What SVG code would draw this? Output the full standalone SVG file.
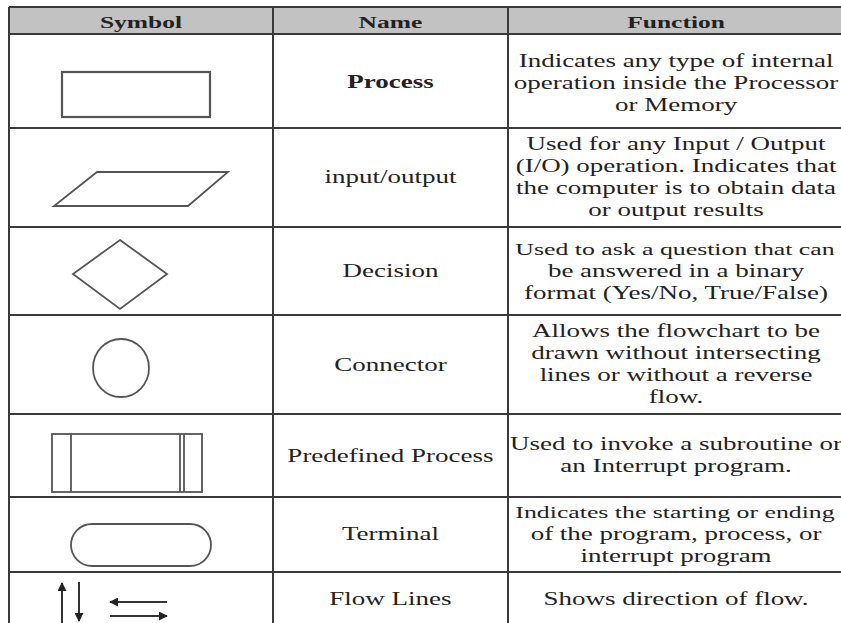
<svg xmlns="http://www.w3.org/2000/svg" width="841" height="623" viewBox="0 0 841 623">
<defs>
<style>
.grid{stroke:#3a3a3a;stroke-width:2;fill:none}
.shape{stroke:#555;stroke-width:1.8;fill:#fff}
.t{font-family:"Liberation Serif","Times New Roman",serif;font-size:18px;fill:#222;text-anchor:middle}
.h{font-weight:bold;font-size:17px}
.b{font-weight:bold}
.s{font-size:17.2px}
.arr{stroke:#333;stroke-width:2;fill:none}
</style>
<marker id="ah" viewBox="0 0 10 10" refX="9" refY="5" markerWidth="4.5" markerHeight="4.5" orient="auto-start-reverse">
<path d="M0,0 L10,5 L0,10 z" fill="#222"/>
</marker>
</defs>
<rect width="841" height="623" fill="#fff"/>
<g id="header">
<rect x="9" y="7" width="840" height="27" fill="#c2c2c2"/>
<g transform="scale(1.5 1)">
<text class="t h" x="94" y="28">Symbol</text>
<text class="t h" x="260.3" y="28">Name</text>
<text class="t h" x="450.7" y="28">Function</text>
</g>
</g>
<g id="grid" class="grid">
<line x1="9" y1="7" x2="841" y2="7"/>
<line x1="9" y1="34" x2="841" y2="34"/>
<line x1="9" y1="128" x2="841" y2="128"/>
<line x1="9" y1="227" x2="841" y2="227"/>
<line x1="9" y1="315" x2="841" y2="315"/>
<line x1="9" y1="414" x2="841" y2="414"/>
<line x1="9" y1="497" x2="841" y2="497"/>
<line x1="9" y1="572" x2="841" y2="572"/>
<line x1="9" y1="7" x2="9" y2="623"/>
<line x1="273" y1="7" x2="273" y2="623"/>
<line x1="508" y1="7" x2="508" y2="623"/>
</g>
<g id="row-process">
<rect class="shape" x="62" y="72" width="148" height="45" style="stroke-width:2.2"/>
<g transform="scale(1.5 1)">
<text class="t b" x="260.3" y="88">Process</text>
<text class="t" x="450.7" y="67">Indicates any type of internal</text>
<text class="t" x="450.7" y="89">operation inside the Processor</text>
<text class="t" x="450.7" y="111">or Memory</text>
</g>
</g>
<g id="row-io">
<polygon class="shape" points="97,172 228,172 188,206 54,206"/>
<g transform="scale(1.5 1)">
<text class="t" x="260.3" y="183">input/output</text>
<text class="t" x="450.7" y="150">Used for any Input / Output</text>
<text class="t" x="450.7" y="172">(I/O) operation. Indicates that</text>
<text class="t" x="450.7" y="194">the computer is to obtain data</text>
<text class="t" x="450.7" y="216">or output results</text>
</g>
</g>
<g id="row-decision">
<polygon class="shape" points="120,240 167,274 120,309 73,274"/>
<g transform="scale(1.5 1)">
<text class="t" x="260.3" y="277">Decision</text>
<text class="t s" x="450" y="255">Used to ask a question that can</text>
<text class="t" x="450.7" y="277">be answered in a binary</text>
<text class="t" x="450.7" y="299">format (Yes/No, True/False)</text>
</g>
</g>
<g id="row-connector">
<ellipse class="shape" cx="121" cy="368" rx="28" ry="29"/>
<g transform="scale(1.5 1)">
<text class="t" x="260.3" y="371">Connector</text>
<text class="t" x="450.7" y="337">Allows the flowchart to be</text>
<text class="t" x="450.7" y="359">drawn without intersecting</text>
<text class="t" x="450.7" y="381">lines or without a reverse</text>
<text class="t" x="450.7" y="403">flow.</text>
</g>
</g>
<g id="row-predefined">
<rect class="shape" x="52" y="434" width="150" height="58"/>
<line class="shape" x1="71" y1="434" x2="71" y2="492"/>
<line class="shape" x1="180" y1="434" x2="180" y2="492"/>
<line class="shape" x1="184" y1="434" x2="184" y2="492"/>
<g transform="scale(1.5 1)">
<text class="t" x="260.3" y="462">Predefined Process</text>
<text class="t" x="450.7" y="450">Used to invoke a subroutine or</text>
<text class="t" x="450.7" y="472">an Interrupt program.</text>
</g>
</g>
<g id="row-terminal">
<rect class="shape" x="71" y="524" width="140" height="42" rx="21" ry="21"/>
<g transform="scale(1.5 1)">
<text class="t" x="260.3" y="540">Terminal</text>
<text class="t s" x="450" y="518">Indicates the starting or ending</text>
<text class="t" x="450.7" y="540">of the program, process, or</text>
<text class="t" x="450.7" y="562">interrupt program</text>
</g>
</g>
<g id="row-flowlines">
<g id="connectors">
<line class="arr" x1="62" y1="623" x2="62" y2="583" marker-end="url(#ah)"/>
<line class="arr" x1="79" y1="582" x2="79" y2="621" marker-end="url(#ah)"/>
<line class="arr" x1="167" y1="602" x2="110" y2="602" marker-end="url(#ah)"/>
<line class="arr" x1="110" y1="616" x2="167" y2="616" marker-end="url(#ah)"/>
</g>
<g transform="scale(1.5 1)">
<text class="t" x="260.3" y="605">Flow Lines</text>
<text class="t" x="450.7" y="605">Shows direction of flow.</text>
</g>
</g>
</svg>
